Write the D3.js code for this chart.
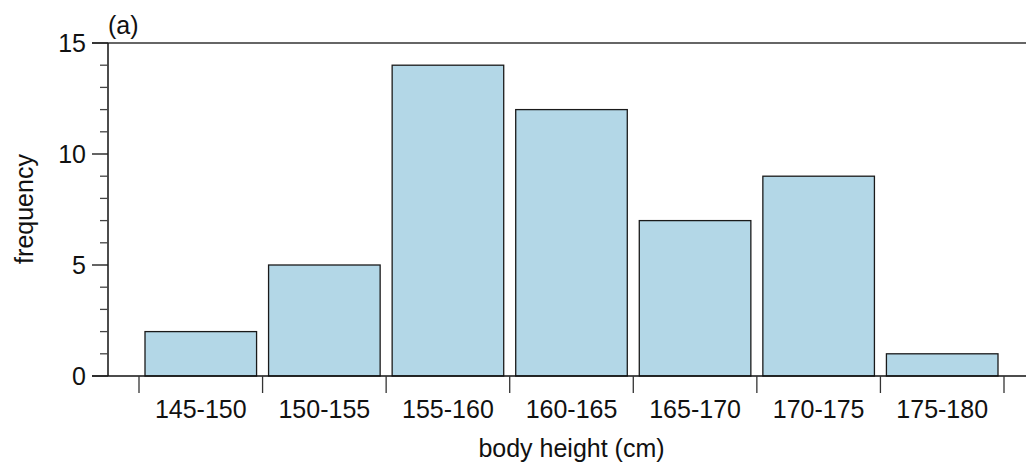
<!DOCTYPE html>
<html>
<head>
<meta charset="utf-8">
<script src="https://cdn.jsdelivr.net/npm/d3@7/dist/d3.min.js"></script>
<style>
  html, body { margin: 0; padding: 0; background: #fff; }
  svg { display: block; font-family: "Liberation Sans", Arial, Helvetica, sans-serif; }
</style>
</head>
<body>
<svg id="chart" width="1026" height="463"></svg>
<script>
// Body height classes (cm) and how many people fall in each
const binEdges = [145, 150, 155, 160, 165, 170, 175, 180];
const categories = ["145-150", "150-155", "155-160", "160-165", "165-170", "170-175", "175-180"];
const frequency = [2, 5, 14, 12, 7, 9, 1];
const yMajorTicks = [0, 5, 10, 15];
const yMinorTicks = d3.range(0, 16);

const svg = d3.select("#chart");
const fontSize = 25;

const plot = { left: 108, top: 43, bottom: 376, axisStart: 92, right: 1026 };

const x = d3.scaleLinear()
  .domain([binEdges[0], binEdges[binEdges.length - 1]])
  .range([139, 1004]);

const y = d3.scaleLinear()
  .domain([0, 15])
  .range([plot.bottom, plot.top]);

const gap = 6; // white space between neighbouring bars

// bars
svg.append("g")
  .selectAll("rect")
  .data(frequency)
  .join("rect")
  .attr("x", (d, i) => x(binEdges[i]) + gap)
  .attr("width", (d, i) => x(binEdges[i + 1]) - x(binEdges[i]) - 2 * gap)
  .attr("y", d => y(d))
  .attr("height", d => y(0) - y(d))
  .attr("fill", "#b3d7e7")
  .attr("stroke", "#1a1a1a")
  .attr("stroke-width", 1.3);

// frame lines: top and baseline
svg.append("line")
  .attr("x1", plot.axisStart).attr("x2", plot.right)
  .attr("y1", y(15)).attr("y2", y(15))
  .attr("stroke", "#333").attr("stroke-width", 1.5);
svg.append("line")
  .attr("x1", plot.axisStart).attr("x2", plot.right)
  .attr("y1", y(0)).attr("y2", y(0))
  .attr("stroke", "#111").attr("stroke-width", 1.5);

// y axis
const yAxis = svg.append("g");
yAxis.append("line")
  .attr("x1", plot.left).attr("x2", plot.left)
  .attr("y1", y(15)).attr("y2", y(0))
  .attr("stroke", "#111").attr("stroke-width", 1.5);
yAxis.selectAll(".minor")
  .data(yMinorTicks.filter(v => !yMajorTicks.includes(v)))
  .join("line")
  .attr("x1", plot.left - 8).attr("x2", plot.left)
  .attr("y1", d => y(d)).attr("y2", d => y(d))
  .attr("stroke", "#444").attr("stroke-width", 1.3);
yAxis.selectAll(".major")
  .data(yMajorTicks)
  .join("line")
  .attr("x1", plot.axisStart).attr("x2", plot.left)
  .attr("y1", d => y(d)).attr("y2", d => y(d))
  .attr("stroke", "#222").attr("stroke-width", 1.4);
yAxis.selectAll("text")
  .data(yMajorTicks)
  .join("text")
  .attr("x", 86)
  .attr("y", d => y(d))
  .attr("dy", "0.36em")
  .attr("text-anchor", "end")
  .attr("font-size", fontSize)
  .attr("fill", "#111")
  .text(d => d);

// x axis: ticks at class boundaries, labels centred under each class
const xAxis = svg.append("g");
xAxis.selectAll("line")
  .data(binEdges)
  .join("line")
  .attr("x1", d => x(d)).attr("x2", d => x(d))
  .attr("y1", y(0)).attr("y2", y(0) + 17)
  .attr("stroke", "#333").attr("stroke-width", 1.3);
xAxis.selectAll("text")
  .data(categories)
  .join("text")
  .attr("x", (d, i) => (x(binEdges[i]) + x(binEdges[i + 1])) / 2)
  .attr("y", 418)
  .attr("text-anchor", "middle")
  .attr("font-size", fontSize)
  .attr("fill", "#111")
  .text(d => d);

// axis titles
svg.append("text")
  .attr("x", (x.range()[0] + x.range()[1]) / 2)
  .attr("y", 457)
  .attr("text-anchor", "middle")
  .attr("font-size", fontSize)
  .attr("fill", "#111")
  .text("body height (cm)");

svg.append("text")
  .attr("transform", `translate(33, ${(153 + 265) / 2}) rotate(-90)`)
  .attr("text-anchor", "middle")
  .attr("font-size", fontSize)
  .attr("fill", "#111")
  .text("frequency");

// panel label
svg.append("text")
  .attr("x", 108)
  .attr("y", 34)
  .attr("font-size", fontSize)
  .attr("fill", "#111")
  .text("(a)");
</script>
</body>
</html>
